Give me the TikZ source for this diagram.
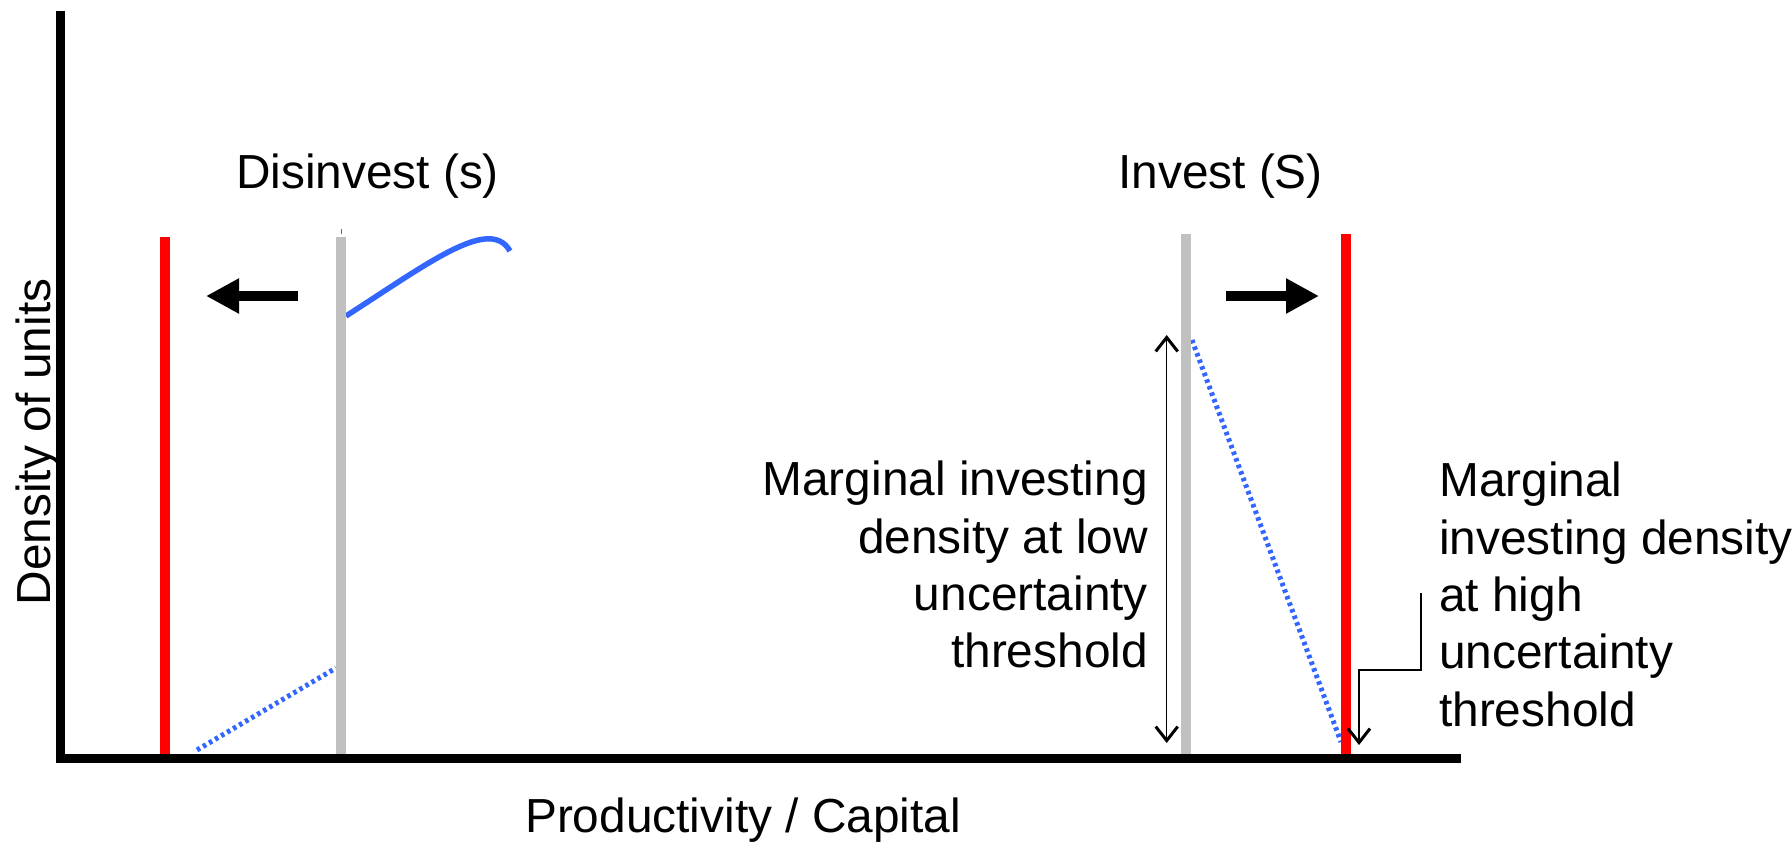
\documentclass[tikz,border=0pt]{standalone}
\usepackage{fontspec}
\setmainfont{Liberation Sans}
\usetikzlibrary{arrows.meta}
\definecolor{barred}{RGB}{255,0,0}
\definecolor{bargray}{RGB}{192,192,192}
\definecolor{curveblue}{RGB}{51,102,255}
\begin{document}
\begin{tikzpicture}[x=1pt,y=-1pt,
  bar/.style={line width=10pt},
  axisline/.style={line width=9.5pt, black},
  bigarrow/.style={line width=10pt, -{Triangle[length=33pt,width=33pt]}},
  thinarrow/.style={line width=1.5pt, -{Straight Barb[length=14pt,width=22pt,line width=3pt]}},
  dblarrow/.style={line width=1.5pt, {Straight Barb[length=14pt,width=22pt,line width=3pt]}-{Straight Barb[length=14pt,width=22pt,line width=3pt]}},
  dotline/.style={curveblue, line width=5pt, dash pattern=on 3.5pt off 3.5pt},
  lbl/.style={font=\fontsize{47.8}{57.3}\selectfont, inner sep=0pt}
]
\useasboundingbox (0,0) rectangle (1792,849);

% coordinates
\coordinate (ldA) at (197,750);
\coordinate (ldB) at (336,668);
\coordinate (rdA) at (1192,340);
\coordinate (rdB) at (1341,742);
\coordinate (cvA) at (346,316);
\coordinate (cvB) at (510,251);
\coordinate (tkA) at (341,229);
\coordinate (tkB) at (341,234);
\coordinate (lrT) at (165,237);
\coordinate (lrB) at (165,758);
\coordinate (lgT) at (341,237);
\coordinate (lgB) at (341,758);
\coordinate (rgT) at (1186,234);
\coordinate (rgB) at (1186,758);
\coordinate (rrT) at (1346,234);
\coordinate (rrB) at (1346,758);
\coordinate (yaT) at (60.5,11);
\coordinate (yaB) at (60.5,763);
\coordinate (xaL) at (56,758.5);
\coordinate (xaR) at (1461,758.5);
\coordinate (laS) at (298,296);
\coordinate (laE) at (206,296);
\coordinate (raS) at (1226,296);
\coordinate (raE) at (1319,296);
\coordinate (daT) at (1166.7,335);
\coordinate (daB) at (1166.7,743);
\coordinate (e1) at (1421,593);
\coordinate (e2) at (1421,670);
\coordinate (e3) at (1359,670);
\coordinate (e4) at (1359,745);

% dotted blue lines
\draw[dotline] (ldA) -- (ldB);
\draw[dotline] (rdA) -- (rdB);
% blue curve
\draw[curveblue, line width=5.5pt] (cvA) .. controls (430,262) and (490,216) .. (cvB);
\draw[curveblue, line width=1pt] (tkA) -- (tkB);

% bars
\draw[bar, barred] (lrT) -- (lrB);
\draw[bar, bargray] (lgT) -- (lgB);
\draw[bar, bargray] (rgT) -- (rgB);
\draw[bar, barred] (rrT) -- (rrB);

% axes
\draw[axisline] (yaT) -- (yaB);
\draw[axisline] (xaL) -- (xaR);

% big arrows
\draw[bigarrow] (laS) -- (laE);
\draw[bigarrow] (raS) -- (raE);

% thin arrows
\draw[dblarrow] (daT) -- (daB);
\draw[thinarrow] (e1) -- (e2) -- (e3) -- (e4);

% labels
\node[lbl, anchor=base] (dis) at (367.5,188) {Disinvest (s)};
\node[lbl, anchor=base] (inv) at (1220.5,188) {Invest (S)};
\node[lbl, anchor=base] (xlab) at (743,832) {Productivity / Capital};
\node[lbl, anchor=base, rotate=90] (ylab) at (50,442) {Density of units};
\node[lbl, anchor=north east, align=right] (low) at (1148,461)
  {Marginal investing\\density at low\\uncertainty\\threshold};
\node[lbl, anchor=north west, align=left] (high) at (1439,462)
  {Marginal\\investing density\\at high\\uncertainty\\threshold};
\end{tikzpicture}
\end{document}
